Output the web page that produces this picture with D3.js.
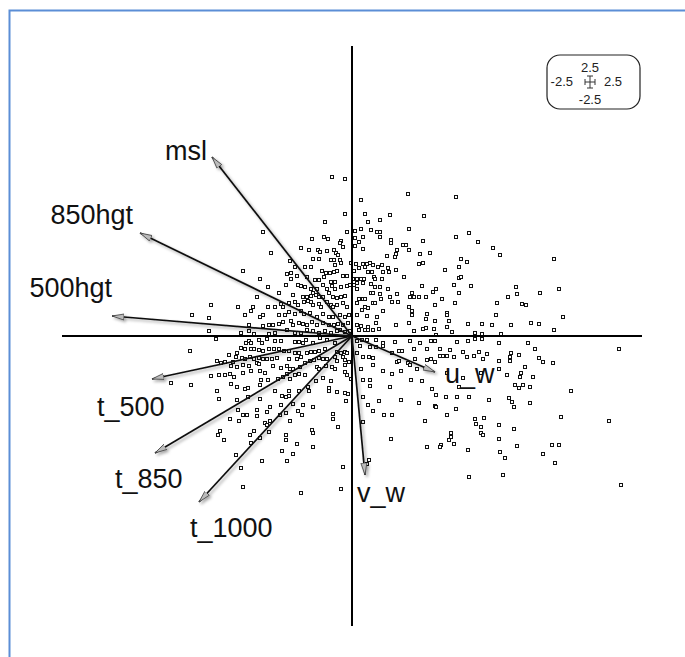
<!DOCTYPE html>
<html>
<head>
<meta charset="utf-8">
<script src="https://cdn.jsdelivr.net/npm/d3@7"></script>
<style>
  html, body { margin: 0; padding: 0; background: #fff; }
  svg { display: block; font-family: "Liberation Sans", Arial, sans-serif; }
</style>
</head>
<body>
<svg id="chart" width="685" height="657"></svg>
<script>
// biplot: variable loadings (arrows) over observation scores (squares)
const varNames = ['msl', '850hgt', '500hgt', 't_500', 't_850', 't_1000', 'u_w', 'v_w'];
const loadX = [-14.0, -21.2, -24.0, -20.0, -19.7, -15.3, 8.3, 1.3];
const loadY = [17.9, 10.3, 2.0, -4.3, -11.7, -16.6, -3.6, -13.9];

// label nudges in px from the arrow tip, and anchor
const labelDx = [-5, -7, 0, -55, -40, -9, 10, -8];
const labelDy = [3, -9, -19, 37, 35, 35, 11, 27];
const labelAnchor = ['end', 'end', 'end', 'start', 'start', 'start', 'start', 'start'];

const scaleTicks = ['2.5', '-2.5', '2.5', '-2.5'];   // top, left, right, bottom

const scores = [
  // upper right
  [5.6,14.2],[10.4,13.9],[0.9,13.6],[1.3,12.2],[3.8,12.1],[7.2,12.0],[1.6,11.4],[2.8,11.6],
  [0.3,10.5],[0.9,10.7],[1.9,10.6],[2.5,10.4],[2.8,10.4],[5.7,10.7],[11.7,10.3],[1.1,9.9],
  [2.8,9.9],[10.4,9.9],[12.6,9.4],[0.3,9.8],[0.7,9.4],[3.9,9.6],[3.9,9.3],[7.1,9.5],
  [0.3,9.0],[1.1,8.7],[5.1,9.1],[5.4,9.1],[4.5,8.6],[14.1,8.8],[5.7,8.6],[3.5,8.0],
  [4.3,7.9],[4.4,8.2],[6.8,8.2],[7.8,8.3],[14.8,8.1],[10.9,7.7],[11.5,7.4],[20.2,7.7],
  [0.4,7.2],[1.1,7.2],[1.5,7.2],[1.8,7.3],[2.1,7.1],[2.6,6.9],[3.0,7.1],[1.3,6.9],
  [0.7,6.8],[3.6,6.8],[3.7,6.4],[4.4,6.6],[3.1,6.4],[6.7,7.2],[7.1,7.3],[9.3,6.6],
  [10.7,6.9],[1.6,6.4],[2.0,6.4],[0.2,6.5],[0.1,5.7],[0.5,5.7],[0.9,5.7],[1.2,5.7],
  [2.2,5.9],[2.3,5.7],[3.0,5.7],[5.2,5.9],[10.7,5.8],[10.9,5.9],[0.5,5.3],[1.1,5.3],
  [1.9,5.2],[0.2,5.1],[2.3,4.9],[2.8,4.9],[7.0,5.0],[10.2,5.1],[11.9,5.0],[16.4,4.9],
  [20.7,4.7],[0.5,4.7],[3.6,4.7],[8.4,4.7],[8.1,4.4],[1.9,4.3],[2.1,4.3],[2.8,4.2],
  [2.9,3.7],[4.5,4.2],[6.0,4.3],[10.7,4.3],[16.5,4.2],[18.8,4.3],[0.7,3.7],[1.1,3.7],
  [1.3,3.7],[3.8,3.9],[5.8,3.9],[6.2,3.9],[6.7,3.9],[7.4,3.9],[9.0,3.7],[15.6,3.9],
  [4.0,3.4],[4.6,3.4],[2.1,3.3],[2.3,3.3],[0.5,3.3],[14.5,3.3],[17.0,3.2],[17.4,3.1],
  [10.3,3.3],[8.3,3.1],[1.3,2.9],[1.6,2.8],[1.0,2.6],[5.7,2.9],[3.1,2.5],[6.0,2.5],
  [6.0,2.1],[9.5,2.3],[9.5,2.1],[7.5,2.2],[14.4,2.1],[21.1,1.9],[0.5,2.1],[1.5,2.0],
  [2.5,1.9],[9.7,1.5],[7.4,1.7],[8.3,1.5],[5.7,1.3],[0.5,1.1],[0.9,1.0],[1.6,0.9],
  [2.4,1.3],[4.4,1.1],[7.1,0.7],[7.4,0.8],[6.2,0.5],[8.2,0.7],[9.5,0.9],[11.6,1.2],
  [13.0,1.2],[14.0,1.1],[15.9,1.1],[17.9,1.3],[18.7,1.2],[20.2,0.6],[10.0,0.4],[12.3,0.3],
  [13.0,0.2],[14.9,0.2],[0.7,0.6],[1.3,0.6],[1.6,0.6],[2.1,0.6],[2.7,0.7],[8.4,0.1],
  // lower right
  [17.6,-0.7],[18.3,-1.3],[26.7,-1.3],[18.7,-2.2],[19.1,-2.6],[20.1,-2.7],[17.3,-3.1],[16.9,-3.7],
  [16.8,-4.1],[18.1,-4.1],[17.1,-4.9],[17.8,-5.1],[21.9,-5.5],[17.8,-6.7],[20.9,-8.1],[25.7,-8.5],
  [20.0,-10.9],[20.7,-10.9],[19.1,-11.8],[20.3,-12.7],[26.9,-14.9],[0.5,-0.5],[1.0,-0.4],[1.5,-0.4],
  [2.4,-0.4],[3.1,-0.7],[4.3,-0.6],[5.8,-0.5],[6.8,-0.7],[7.9,-0.5],[8.3,-0.5],[10.5,-0.6],
  [11.6,-0.5],[12.3,-0.3],[13.0,-0.3],[14.7,-0.7],[0.8,-1.0],[1.8,-1.1],[2.4,-1.1],[3.1,-1.0],
  [4.7,-1.5],[5.0,-1.5],[6.2,-1.3],[7.5,-1.3],[8.8,-1.3],[9.8,-1.4],[11.1,-1.6],[12.7,-1.6],
  [13.5,-1.8],[15.9,-1.7],[16.7,-1.9],[0.5,-1.7],[1.1,-2.1],[1.7,-2.1],[2.1,-2.2],[4.0,-1.7],
  [4.5,-2.6],[4.7,-2.5],[5.6,-2.7],[6.3,-2.3],[7.5,-2.4],[7.9,-2.3],[8.3,-2.6],[8.8,-2.0],
  [9.1,-2.0],[9.5,-2.0],[10.2,-2.1],[11.5,-2.1],[12.2,-2.0],[13.1,-2.3],[14.7,-2.5],[14.7,-3.3],
  [15.8,-2.1],[15.8,-2.5],[0.9,-3.3],[2.1,-2.9],[3.1,-3.5],[4.0,-3.8],[4.9,-3.5],[5.8,-2.9],
  [6.5,-3.3],[9.5,-3.7],[11.1,-4.2],[12.9,-3.7],[15.5,-3.9],[1.1,-4.4],[1.8,-4.4],[3.8,-5.1],
  [5.9,-4.4],[7.0,-4.5],[8.0,-5.3],[10.7,-5.1],[16.3,-4.9],[16.7,-5.2],[1.8,-5.0],[8.4,-5.9],
  [9.4,-6.1],[10.5,-6.1],[11.7,-6.1],[13.7,-6.4],[15.7,-6.2],[16.0,-6.6],[16.2,-7.1],[1.1,-6.1],
  [2.7,-6.5],[4.9,-6.4],[6.7,-6.7],[8.3,-7.0],[8.4,-7.1],[10.4,-7.3],[1.6,-6.9],[2.1,-7.5],
  [3.2,-7.9],[4.0,-7.9],[7.3,-8.5],[9.5,-7.9],[12.3,-8.3],[13.2,-8.2],[1.1,-8.6],[12.4,-8.8],
  [12.9,-9.1],[14.7,-8.9],[16.2,-9.3],[3.9,-10.3],[9.9,-9.7],[9.9,-10.1],[12.9,-9.7],[13.1,-9.9],
  [9.7,-10.4],[8.9,-10.9],[8.8,-11.1],[7.5,-11.1],[10.2,-10.8],[11.6,-11.4],[14.7,-10.3],[16.5,-11.0],
  [14.8,-11.6],[15.3,-12.2],[1.7,-12.4],[1.5,-12.8],[11.7,-14.1],[15.1,-13.9],
  // upper left
  [-2.0,15.9],[-0.7,15.7],[-0.7,12.2],[-2.7,11.4],[-0.5,10.4],[-8.9,10.4],[-4.0,9.7],[-2.8,9.9],
  [-2.4,9.7],[-1.1,9.5],[-1.2,9.3],[-5.1,8.8],[-4.3,8.6],[-3.4,8.6],[-3.2,8.4],[-2.5,8.5],
  [-1.8,8.6],[-1.6,8.3],[-1.4,8.1],[-0.9,8.9],[-8.1,8.3],[-3.9,7.7],[-3.3,7.7],[-2.1,7.6],
  [-1.8,7.6],[-1.2,7.6],[-6.2,7.5],[-1.7,7.1],[-1.1,7.3],[-0.1,7.3],[-4.7,6.9],[-4.1,6.9],
  [-5.7,6.9],[-3.0,6.5],[-2.6,6.3],[-2.2,6.3],[-1.8,6.4],[-1.5,6.5],[-10.9,6.5],[-9.2,5.7],
  [-6.5,6.2],[-6.1,6.3],[-5.5,6.0],[-6.1,5.7],[-4.5,5.9],[-3.7,5.6],[-3.3,5.6],[-2.8,5.9],
  [-2.1,5.4],[-1.7,5.4],[-0.9,6.0],[-0.5,6.0],[-8.4,4.9],[-6.6,5.1],[-5.4,5.1],[-5.1,5.0],
  [-4.7,4.9],[-4.1,4.7],[-3.9,4.3],[-3.5,4.7],[-2.9,5.1],[-2.5,4.7],[-2.0,5.0],[-1.7,4.7],
  [-1.1,4.9],[-0.5,5.0],[-0.2,5.1],[-7.3,4.3],[-5.9,4.1],[-4.9,3.9],[-4.5,3.9],[-4.1,4.0],
  [-3.6,4.1],[-3.3,3.9],[-2.9,3.9],[-2.3,4.3],[-1.9,3.9],[-1.5,3.8],[-1.1,3.9],[-0.7,4.0],
  [-9.5,3.9],[-14.1,3.1],[-11.4,2.9],[-9.9,2.9],[-10.1,2.5],[-8.4,2.9],[-7.7,2.9],[-7.1,3.2],
  [-6.9,2.9],[-6.3,3.3],[-5.7,3.4],[-5.4,3.1],[-4.8,3.4],[-4.4,3.5],[-4.1,3.4],[-3.9,3.1],
  [-3.3,3.2],[-3.1,2.9],[-2.5,3.4],[-2.1,3.1],[-1.9,2.9],[-1.5,3.1],[-0.9,3.3],[-0.5,2.9],
  [-16.0,2.1],[-14.3,1.8],[-10.7,2.1],[-9.2,1.9],[-8.9,2.1],[-7.3,2.1],[-6.7,2.1],[-6.3,2.4],
  [-5.7,2.2],[-5.1,2.5],[-4.8,2.2],[-4.2,2.3],[-3.5,1.9],[-2.9,2.2],[-2.3,1.9],[-1.9,1.9],
  [-1.2,2.1],[-0.7,1.9],[-0.3,2.1],[-10.3,1.1],[-8.9,1.0],[-8.3,1.1],[-7.9,1.1],[-7.3,1.2],
  [-6.9,1.4],[-6.1,1.5],[-5.9,1.1],[-5.3,1.3],[-4.9,1.2],[-4.5,1.1],[-4.0,1.4],[-3.5,1.1],
  [-2.9,1.3],[-2.3,1.1],[-1.8,1.1],[-1.4,1.2],[-0.9,1.1],[-0.4,1.3],[-14.3,0.5],[-11.1,0.3],
  [-10.3,0.5],[-9.8,0.2],[-8.3,0.2],[-7.7,0.3],[-6.5,0.6],[-5.7,0.3],[-5.1,0.3],[-4.5,0.6],
  [-3.9,0.5],[-3.3,0.3],[-2.7,0.5],[-2.1,0.3],[-1.5,0.5],[-1.2,0.6],[-0.7,0.4],[-0.2,0.5],
  // lower left
  [-13.6,-0.3],[-16.2,-1.5],[-10.6,-0.7],[-10.3,-0.5],[-10.1,-0.7],[-9.3,-0.4],[-9.0,-0.7],[-8.5,-0.3],
  [-7.7,-0.5],[-7.1,-0.5],[-5.7,-0.6],[-5.3,-0.6],[-4.9,-0.7],[-4.6,-0.4],[-3.9,-0.7],[-3.2,-0.2],
  [-2.5,-0.4],[-1.7,-0.7],[-11.1,-1.2],[-11.5,-1.7],[-11.6,-2.1],[-10.7,-1.3],[-10.1,-1.3],[-9.8,-1.3],
  [-9.3,-1.4],[-8.9,-1.5],[-8.3,-1.3],[-7.8,-1.3],[-7.3,-1.3],[-6.8,-1.5],[-6.3,-1.5],[-5.7,-1.7],
  [-5.3,-1.7],[-4.5,-1.7],[-4.1,-1.6],[-3.7,-1.6],[-3.3,-1.5],[-2.7,-1.3],[-1.5,-1.6],[-1.1,-1.7],
  [-0.7,-1.6],[-0.5,-1.7],[-12.3,-1.9],[-11.0,-2.2],[-10.7,-2.3],[-10.2,-2.1],[-9.8,-2.3],[-9.3,-2.2],
  [-8.9,-2.3],[-8.5,-2.3],[-8.0,-2.3],[-7.5,-2.2],[-6.3,-2.3],[-5.5,-2.3],[-5.1,-2.1],[-4.7,-2.7],
  [-4.2,-2.5],[-3.8,-2.4],[-3.3,-2.2],[-2.9,-2.3],[-2.5,-2.3],[-1.7,-2.1],[-1.5,-2.5],[-0.9,-2.1],
  [-0.7,-2.4],[-0.3,-2.6],[-13.5,-2.5],[-13.1,-2.7],[-12.7,-2.6],[-12.1,-3.0],[-11.9,-2.6],[-11.5,-3.1],
  [-10.9,-2.9],[-10.3,-3.0],[-9.5,-2.7],[-9.3,-2.8],[-7.9,-3.0],[-7.1,-3.2],[-6.5,-3.0],[-6.2,-3.3],
  [-5.9,-3.3],[-5.2,-3.1],[-3.5,-3.1],[-3.3,-3.3],[-2.6,-3.0],[-2.0,-3.1],[-1.7,-3.3],[-0.7,-2.9],
  [-0.7,-3.6],[-14.1,-4.0],[-13.3,-3.9],[-12.7,-3.9],[-12.2,-3.8],[-11.8,-4.1],[-10.9,-3.7],[-10.1,-3.5],
  [-9.2,-3.5],[-8.7,-3.7],[-9.1,-4.4],[-8.4,-4.4],[-7.4,-4.3],[-6.9,-4.1],[-6.5,-3.8],[-6.2,-4.3],
  [-5.7,-3.9],[-5.3,-3.8],[-4.7,-3.9],[-3.6,-4.5],[-2.9,-4.2],[-0.5,-3.9],[-0.1,-4.3],[-16.1,-4.9],
  [-12.1,-4.8],[-11.5,-5.1],[-10.7,-5.3],[-10.4,-5.2],[-9.2,-4.9],[-7.7,-5.5],[-6.3,-5.5],[-5.3,-5.5],
  [-4.3,-5.5],[-4.4,-5.1],[-2.3,-5.2],[-2.3,-5.5],[-2.1,-4.5],[-1.5,-5.6],[-0.7,-5.7],[-0.4,-5.8],
  [-13.5,-5.5],[-13.3,-6.3],[-11.5,-6.4],[-10.4,-6.1],[-9.2,-6.3],[-7.0,-6.0],[-6.6,-6.1],[-6.3,-6.0],
  [-5.9,-6.8],[-7.1,-6.9],[-4.9,-6.9],[-3.9,-7.1],[-0.6,-6.5],[-11.4,-7.4],[-10.9,-7.9],[-10.5,-7.9],
  [-9.5,-7.4],[-9.5,-8.0],[-8.5,-7.6],[-8.2,-7.1],[-7.2,-7.9],[-6.6,-7.7],[-5.4,-7.5],[-5.0,-7.9],
  [-1.9,-7.8],[-12.2,-8.3],[-11.3,-8.5],[-8.7,-8.7],[-8.5,-8.9],[-8.2,-8.5],[-6.2,-8.5],[-1.9,-8.3],
  [-1.4,-9.1],[-13.2,-9.5],[-13.4,-9.9],[-10.2,-9.9],[-9.8,-9.5],[-9.2,-10.2],[-8.3,-9.6],[-6.6,-9.9],
  [-6.6,-10.4],[-4.0,-9.4],[-3.9,-9.7],[-12.8,-10.4],[-10.1,-10.7],[-5.5,-10.8],[-3.9,-11.1],[-7.0,-11.5],
  [-5.9,-11.8],[-11.6,-11.9],[-6.5,-12.5],[-9.0,-12.5],[-11.1,-13.2],[-0.9,-13.1],[-10.9,-15.1],[-5.1,-15.7],
  [-1.1,-15.3],[-18.1,-4.7]
];

const svg = d3.select('#chart');

// frame
svg.append('path')
  .attr('d', 'M9.5,657 L9.5,10.5 L685,10.5')
  .attr('fill', 'none')
  .attr('stroke', '#5b8ed6')
  .attr('stroke-width', 2);

const x = d3.scaleLinear().domain([-29, 29]).range([62, 642]);
const y = d3.scaleLinear().domain([-29, 29]).range([626, 46]);

const defs = svg.append('defs');
const shadow = defs.append('filter').attr('id', 'shadow')
  .attr('x', '-20%').attr('y', '-20%').attr('width', '140%').attr('height', '140%');
shadow.append('feDropShadow')
  .attr('dx', 2).attr('dy', 2).attr('stdDeviation', 1.5)
  .attr('flood-color', '#000').attr('flood-opacity', 0.35);

defs.append('marker')
  .attr('id', 'head')
  .attr('viewBox', '0 0 12 8')
  .attr('refX', 12).attr('refY', 4)
  .attr('markerWidth', 12).attr('markerHeight', 8)
  .attr('markerUnits', 'userSpaceOnUse')
  .attr('orient', 'auto')
  .append('path')
  .attr('d', 'M0,1 L12,4 L0,7 Z')
  .attr('fill', '#bbb')
  .attr('stroke', '#444')
  .attr('stroke-width', 0.8);

// score points, snapped to the pixel grid so the outlines stay crisp
svg.append('g')
  .selectAll('rect')
  .data(scores)
  .join('rect')
  .attr('x', d => Math.round(x(d[0])) - 1.5)
  .attr('y', d => Math.round(y(d[1])) - 1.5)
  .attr('width', 3)
  .attr('height', 3)
  .attr('fill', '#fff')
  .attr('stroke', '#111')
  .attr('stroke-width', 1);

// axes through origin
const gAxis = svg.append('g').attr('stroke', '#000').attr('stroke-width', 2);
gAxis.append('line')
  .attr('x1', x(-29)).attr('x2', x(29))
  .attr('y1', y(0)).attr('y2', y(0));
gAxis.append('line')
  .attr('x1', x(0)).attr('x2', x(0))
  .attr('y1', y(29)).attr('y2', y(-29));

// loading arrows
const arrows = varNames.map((n, i) => ({ name: n, lx: loadX[i], ly: loadY[i], i }));

svg.append('g')
  .attr('filter', 'url(#shadow)')
  .selectAll('line')
  .data(arrows)
  .join('line')
  .attr('x1', x(0)).attr('y1', y(0))
  .attr('x2', d => x(d.lx)).attr('y2', d => y(d.ly))
  .attr('stroke', '#111')
  .attr('stroke-width', 1.7)
  .attr('marker-end', 'url(#head)');

svg.append('g')
  .selectAll('text')
  .data(arrows)
  .join('text')
  .attr('x', d => x(d.lx) + labelDx[d.i])
  .attr('y', d => y(d.ly) + labelDy[d.i])
  .attr('text-anchor', d => labelAnchor[d.i])
  .attr('font-size', 27)
  .attr('fill', '#111')
  .text(d => d.name);

// scale key, top right
const key = svg.append('g').attr('transform', 'translate(547,55)');
key.append('rect')
  .attr('width', 93).attr('height', 54)
  .attr('rx', 13).attr('ry', 13)
  .attr('fill', '#fff')
  .attr('stroke', '#222')
  .attr('stroke-width', 1.2);

const cx = 43, cy = 27, h = 5;
const cross = key.append('g').attr('stroke', '#333').attr('stroke-width', 1);
cross.append('line').attr('x1', cx - h).attr('x2', cx + h).attr('y1', cy).attr('y2', cy);
cross.append('line').attr('x1', cx).attr('x2', cx).attr('y1', cy - h - 1).attr('y2', cy + h + 1);
cross.append('line').attr('x1', cx - h).attr('x2', cx - h).attr('y1', cy - 3).attr('y2', cy + 3);
cross.append('line').attr('x1', cx + h).attr('x2', cx + h).attr('y1', cy - 3).attr('y2', cy + 3);
cross.append('line').attr('x1', cx - 3).attr('x2', cx + 3).attr('y1', cy - h - 1).attr('y2', cy - h - 1);
cross.append('line').attr('x1', cx - 3).attr('x2', cx + 3).attr('y1', cy + h + 1).attr('y2', cy + h + 1);

const keyPos = [[cx, 17, 'middle'], [cx - 17, 31, 'end'], [cx + 14, 31, 'start'], [cx, 49, 'middle']];
key.selectAll('text')
  .data(scaleTicks)
  .join('text')
  .attr('x', (d, i) => keyPos[i][0])
  .attr('y', (d, i) => keyPos[i][1])
  .attr('text-anchor', (d, i) => keyPos[i][2])
  .attr('font-size', 13)
  .attr('fill', '#222')
  .text(d => d);
</script>
</body>
</html>
